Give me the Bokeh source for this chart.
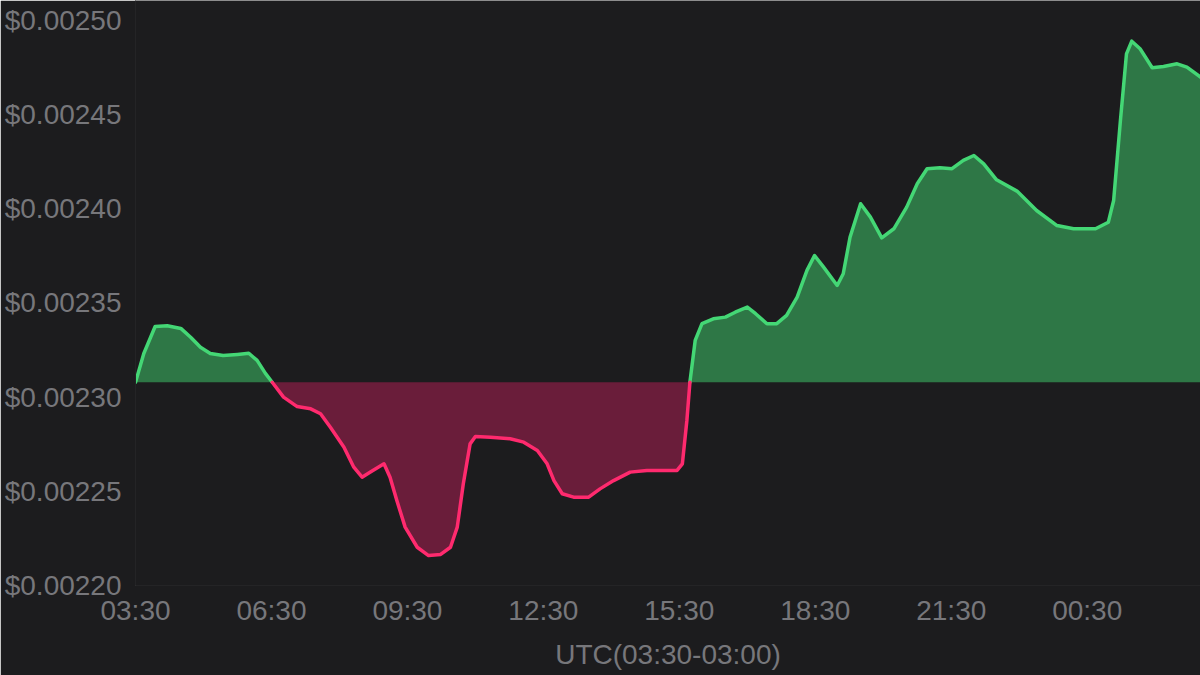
import numpy as np
from bokeh.plotting import figure
from bokeh.models import Range1d, FixedTicker, PrintfTickFormatter
from bokeh.embed import file_html
from bokeh.resources import INLINE

# minutes after 03:30 UTC
minutes = [0, 11, 26, 42, 60, 73, 86, 99, 116, 135, 150, 161, 172, 181, 196, 214, 232, 245, 258, 276,
           289, 300, 311, 329, 337, 346, 357, 373, 388, 404, 417, 426, 434, 443, 450, 470, 496, 514,
           532, 545, 554, 565, 580, 600, 615, 633, 655, 677, 717, 724, 730, 734, 741, 750, 765, 781,
           794, 810, 821, 836, 849, 862, 876, 889, 899, 911, 929, 937, 946, 960, 973, 988, 1004,
           1021, 1035, 1048, 1065, 1081, 1096, 1110, 1123, 1140, 1167, 1193, 1220, 1242, 1271, 1288,
           1295, 1304, 1312, 1319, 1330, 1346, 1361, 1379, 1392, 1410]
# price in units of $0.00001
price5 = [230.79, 232.32, 233.75, 233.79, 233.65, 233.18, 232.65, 232.32, 232.21, 232.27, 232.33,
          231.95, 231.26, 230.79, 230.00, 229.50, 229.38, 229.12, 228.40, 227.34, 226.28, 225.75,
          226.02, 226.46, 225.75, 224.51, 223.10, 222.03, 221.59, 221.65, 222.03, 223.10, 225.40,
          227.52, 227.91, 227.87, 227.79, 227.61, 227.17, 226.46, 225.57, 224.87, 224.69, 224.69,
          225.13, 225.57, 226.02, 226.11, 226.11, 226.46, 228.76, 230.79, 233.01, 233.90, 234.16,
          234.25, 234.51, 234.78, 234.43, 233.90, 233.90, 234.34, 235.31, 236.73, 237.52, 236.90,
          235.93, 236.55, 238.49, 240.27, 239.56, 238.46, 238.94, 240.09, 241.33, 242.13, 242.18,
          242.13, 242.57, 242.83, 242.39, 241.54, 240.94, 239.91, 239.11, 238.94, 238.94, 239.29,
          240.44, 244.69, 248.23, 248.90, 248.50, 247.49, 247.56, 247.70, 247.52, 246.99]

x_ticks = [0, 180, 360, 540, 720, 900, 1080, 1260]
x_tick_labels = ["03:30", "06:30", "09:30", "12:30", "15:30", "18:30", "21:30", "00:30"]
y_ticks = [0.00220, 0.00225, 0.00230, 0.00235, 0.00240, 0.00245, 0.00250]
x_axis_title = "UTC(03:30-03:00)"

x = np.array(minutes, dtype=float)
y = np.array(price5) * 1e-5
base = y[0]

BG = "#1c1c1e"
GREEN_LINE = "#44d775"
GREEN_FILL = "#2e7746"
RED_LINE = "#ff2a6e"
RED_FILL = "#6a1d3a"
TXT = "#77777b"
FONT = "Liberation Sans"

p = figure(width=1200, height=675, output_backend="svg", toolbar_location=None,
           x_range=Range1d(0, 1410), y_range=Range1d(0.0022, 0.0025106),
           min_border_left=135, min_border_right=0, min_border_top=0, min_border_bottom=90)
p.background_fill_color = BG
p.border_fill_color = BG
p.outline_line_color = None
p.grid.grid_line_color = None

p.varea(x=x, y1=base, y2=np.maximum(y, base), fill_color=GREEN_FILL)
p.varea(x=x, y1=np.minimum(y, base), y2=base, fill_color=RED_FILL)

g = np.where(y >= base - 1e-12, y, np.nan)
r = np.where(y <= base + 1e-12, y, np.nan)
p.line(x, g, line_color=GREEN_LINE, line_width=3.5, line_join="round", line_cap="round")
p.line(x, r, line_color=RED_LINE, line_width=3.5, line_join="round", line_cap="round")

p.xaxis.ticker = FixedTicker(ticks=x_ticks)
p.xaxis.major_label_overrides = {t: l for t, l in zip(x_ticks, x_tick_labels)}
p.yaxis.ticker = FixedTicker(ticks=y_ticks)
p.yaxis.formatter = PrintfTickFormatter(format="$%.5f")
p.xaxis.axis_label = x_axis_title

for ax in (p.xaxis, p.yaxis):
    ax.axis_line_color = "#242426"
    ax.major_tick_line_color = None
    ax.minor_tick_line_color = None
    ax.major_tick_out = 0
    ax.major_tick_in = 0
    ax.major_label_text_color = TXT
    ax.major_label_text_font = FONT
    ax.major_label_text_font_size = "28px"
    ax.axis_label_text_color = TXT
    ax.axis_label_text_font = FONT
    ax.axis_label_text_font_size = "28px"
    ax.axis_label_text_font_style = "normal"

p.xaxis.major_label_standoff = 9
p.xaxis.axis_label_standoff = 10
p.yaxis.major_label_standoff = 14

open("out.html", "w").write(file_html(p, INLINE))
